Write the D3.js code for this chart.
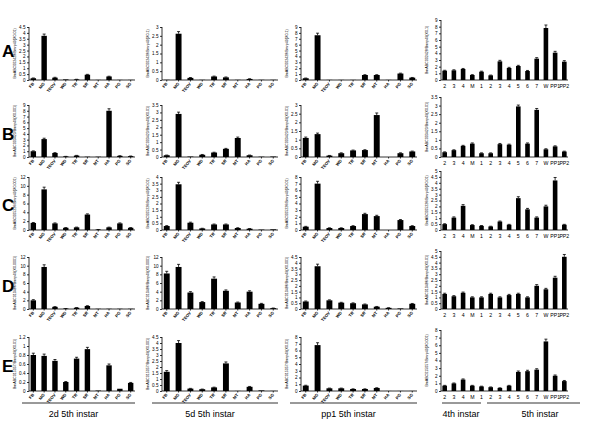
<!DOCTYPE html>
<html lang="en">
<head>
<meta charset="UTF-8">
<script src="https://cdn.jsdelivr.net/npm/d3@7"></script>
<style>
	body { margin: 0; background: #fff; }
	svg { display: block; font-family: "Liberation Sans", Arial, sans-serif; }
	.axis path, .axis line { stroke: #000; stroke-width: 0.8px; }
</style>
</head>
<body>
<script>
	/*------------------- data --------------------*/
	const tissues = ["FB", "MG", "TEOV", "WD", "TR", "SR", "MT", "HA", "PG", "SG"];
	const stages = ["2", "3", "4", "M", "1", "2", "3", "4", "5", "6", "7", "W", "PP1", "PP2"];
	const rowNames = ["A", "B", "C", "D", "E"];
	const groupNames = ["2d 5th instar", "5d 5th instar", "pp1 5th instar"];

	// values per panel, row by row (A..E), columns 2d, 5d, pp1, development
	const a1 = [0.15, 3.75, 0.2, 0.05, 0.05, 0.45, 0.01, 0.3, 0.01, 0.01];
	const a2 = [0.01, 2.62, 0.12, 0.01, 0.2, 0.15, 0.01, 0.06, 0.01, 0.01];
	const a3 = [0.3, 7.6, 0.02, 0.02, 0.02, 0.85, 0.85, 0.02, 1.1, 0.4];
	const a4 = [1.4, 1.45, 1.65, 0.75, 1.25, 0.7, 2.8, 1.8, 2.1, 1.35, 3.2, 7.8, 4.1, 2.75];
	const b1 = [1.0, 3.1, 0.7, 0.1, 0.25, 0.05, 0.05, 8.0, 0.2, 0.15];
	const b2 = [0.12, 2.9, 0.03, 0.15, 0.3, 0.55, 1.28, 0.12, 0.02, 0.03];
	const b3 = [1.1, 1.32, 0.08, 0.22, 0.38, 0.4, 2.42, 0, 0.22, 0.32];
	const b4 = [0.28, 0.4, 0.65, 0.78, 0.22, 0.22, 0.75, 0.72, 2.95, 0.78, 2.75, 0.45, 0.62, 0.32];
	const c1 = [1.6, 9.2, 1.5, 0.5, 0.6, 3.5, 0.1, 0.6, 1.5, 0.5];
	const c2 = [0.3, 3.45, 0.55, 0.12, 0.42, 0.42, 0.15, 0.1, 0.03, 0.05];
	const c3 = [0.5, 7.0, 0.3, 0.3, 0.6, 2.4, 2.1, 0, 1.5, 0.6];
	const c4 = [0.5, 1.05, 2.05, 0.42, 0.35, 0.3, 0.72, 0.45, 2.7, 1.75, 1.05, 2.0, 4.2, 0.45];
	const d1 = [2.0, 9.7, 0.5, 0.1, 0.3, 0.7, 0.05, 0.05, 0.05, 0.05];
	const d2 = [8.2, 9.7, 3.8, 1.6, 7.0, 4.2, 1.5, 4.0, 1.2, 0.2];
	const d3v = [0.65, 3.7, 0.75, 0.55, 0.5, 0.4, 0.2, 0.1, 0.05, 0.45];
	const d4 = [1.3, 1.1, 1.4, 1.0, 1.0, 1.3, 1.0, 1.2, 1.3, 1.0, 2.0, 1.7, 2.7, 4.5];
	const e1 = [0.8, 0.78, 0.67, 0.2, 0.72, 0.93, 0.01, 0.57, 0.05, 0.18];
	const e2 = [1.6, 4.0, 0.2, 0.15, 0.3, 2.3, 0.01, 0.35, 0.05, 0.01];
	const e3 = [0.8, 6.8, 0.4, 0.4, 0.3, 0.3, 0.45, 0.01, 0.01, 0.01];
	const e4 = [0.7, 1.0, 1.5, 0.7, 0.6, 0.5, 0.4, 0.7, 2.5, 2.6, 2.8, 6.5, 2.0, 1.3];

	// error bars (SD), same order
	const a1e = [0.02, 0.15, 0.03, 0, 0.01, 0.03, 0, 0.02, 0, 0];
	const a2e = [0, 0.12, 0.02, 0, 0.02, 0.02, 0, 0.01, 0, 0];
	const a3e = [0.03, 0.35, 0, 0, 0, 0.05, 0.05, 0, 0.06, 0.03];
	const a4e = [0.06, 0.08, 0.08, 0.05, 0.07, 0.04, 0.15, 0.1, 0.1, 0.08, 0.15, 0.45, 0.2, 0.15];
	const b1e = [0.06, 0.15, 0.05, 0.01, 0.03, 0, 0, 0.35, 0.02, 0.02];
	const b2e = [0.01, 0.12, 0, 0.02, 0.02, 0.03, 0.06, 0.01, 0, 0];
	const b3e = [0.05, 0.06, 0.01, 0.02, 0.02, 0.02, 0.12, 0, 0.02, 0.02];
	const b4e = [0.02, 0.02, 0.03, 0.04, 0.02, 0.02, 0.04, 0.03, 0.08, 0.04, 0.08, 0.03, 0.03, 0.02];
	const c1e = [0.1, 0.5, 0.1, 0.05, 0.05, 0.15, 0.01, 0.05, 0.1, 0.05];
	const c2e = [0.03, 0.15, 0.04, 0.01, 0.03, 0.03, 0.02, 0.01, 0, 0];
	const c3e = [0.05, 0.35, 0.03, 0.03, 0.05, 0.12, 0.12, 0, 0.08, 0.05];
	const c4e = [0.03, 0.06, 0.1, 0.03, 0.03, 0.02, 0.04, 0.03, 0.12, 0.08, 0.06, 0.1, 0.25, 0.03];
	const d1e = [0.15, 0.5, 0.05, 0.01, 0.03, 0.06, 0, 0, 0, 0];
	const d2e = [0.5, 0.6, 0.2, 0.1, 0.4, 0.2, 0.1, 0.2, 0.1, 0.02];
	const d3e = [0.04, 0.18, 0.04, 0.03, 0.03, 0.03, 0.02, 0.01, 0, 0.03];
	const d4e = [0.06, 0.05, 0.06, 0.05, 0.05, 0.06, 0.05, 0.06, 0.06, 0.05, 0.1, 0.08, 0.12, 0.2];
	const e1e = [0.04, 0.04, 0.03, 0.01, 0.03, 0.04, 0, 0.03, 0, 0.01];
	const e2e = [0.1, 0.2, 0.02, 0.01, 0.02, 0.12, 0, 0.03, 0, 0];
	const e3e = [0.05, 0.35, 0.03, 0.03, 0.02, 0.02, 0.03, 0, 0, 0];
	const e4e = [0.04, 0.05, 0.08, 0.04, 0.03, 0.03, 0.02, 0.04, 0.12, 0.12, 0.12, 0.3, 0.1, 0.08];

	// y axis maxima and tick steps
	const yMax = [[4.5, 3, 9, 9], [9, 3.5, 3, 3.5], [12, 4, 8, 5], [12, 12, 4.5, 5], [1.2, 4.5, 8, 8]];
	const yStep = [[0.5, 0.5, 1, 1], [1, 0.5, 0.5, 0.5], [2, 0.5, 1, 0.5], [2, 2, 0.5, 0.5], [0.2, 0.5, 1, 1]];

	const yTitles = [
		["BmABC002428/Bmrp49(X0.01)", "BmABC002428/Bmrp49(X0.1)", "BmABC002428/Bmrp49(X0.1)", "BmABC002428/Bmrp49(X0.1)"],
		["BmABC003423/Bmrp49(X0.001)", "BmABC003423/Bmrp49(X0.01)", "BmABC003423/Bmrp49(X0.01)", "BmABC003423/Bmrp49(X0.01)"],
		["BmABC005226/Bmrp49(X0.001)", "BmABC005226/Bmrp49(X0.01)", "BmABC005226/Bmrp49(X0.01)", "BmABC005226/Bmrp49(X0.01)"],
		["BmABC010486/Bmrp49(X0.0001)", "BmABC010486/Bmrp49(X0.0001)", "BmABC010486/Bmrp49(X0.001)", "BmABC010486/Bmrp49(X0.01)"],
		["BmABC015057/Bmrp49(X0.01)", "BmABC015057/Bmrp49(X0.001)", "BmABC015057/Bmrp49(X0.01)", "BmABC015057/Bmrp49(X0.001)"]
	];

	const vals = [[a1, a2, a3, a4], [b1, b2, b3, b4], [c1, c2, c3, c4], [d1, d2, d3v, d4], [e1, e2, e3, e4]];
	const errs = [[a1e, a2e, a3e, a4e], [b1e, b2e, b3e, b4e], [c1e, c2e, c3e, c4e], [d1e, d2e, d3e, d4e], [e1e, e2e, e3e, e4e]];

	/*------------------- layout --------------------*/
	const W = 600, H = 424;
	const colLeft = [29, 162, 301, 441];
	const colRight = [135, 278, 417, 568];
	const rowTop = [27, 105, 177, 257, 337];
	const rowBase = [80, 157, 230, 309, 391];
	const col4Top = [20, 97, 171, 251, 330];
	const letterY = [57, 140, 211, 292, 372];

	const svg = d3.select("body").append("svg")
		.attr("width", W)
		.attr("height", H);

	rowNames.forEach((rn, r) => {
		svg.append("text")
			.attr("x", 2).attr("y", letterY[r])
			.attr("font-size", 17).attr("font-weight", "bold")
			.text(rn);

		for (let c = 0; c < 4; c++) {
			const dev = c === 3;
			const data = vals[r][c];
			const err = errs[r][c];
			const top = dev ? col4Top[r] : rowTop[r];

			const x = d3.scaleBand()
				.domain(d3.range(data.length))
				.range([colLeft[c], colRight[c]])
				.paddingInner(0.5)
				.paddingOuter(0.15);
			const y = d3.scaleLinear()
				.domain([0, yMax[r][c]])
				.range([rowBase[r], top]);

			const tickVals = d3.range(0, yMax[r][c] + yStep[r][c] / 2, yStep[r][c]);
			const g = svg.append("g");

			// bars
			g.selectAll("rect").data(data).join("rect")
				.attr("x", (d, i) => x(i))
				.attr("width", x.bandwidth())
				.attr("y", d => y(d))
				.attr("height", d => rowBase[r] - y(d))
				.attr("fill", "#000");

			// error bars (stem + cap)
			data.forEach((d, i) => {
				if (!(err[i] > 0)) return;
				const cx = x(i) + x.bandwidth() / 2;
				const yt = y(d + err[i]);
				g.append("line")
					.attr("x1", cx).attr("x2", cx)
					.attr("y1", y(d)).attr("y2", yt)
					.attr("stroke", "#000").attr("stroke-width", 0.8);
				g.append("line")
					.attr("x1", cx - 1.5).attr("x2", cx + 1.5)
					.attr("y1", yt).attr("y2", yt)
					.attr("stroke", "#000").attr("stroke-width", 0.8);
			});

			// y axis
			const ya = g.append("g").attr("class", "axis")
				.attr("transform", `translate(${colLeft[c]},0)`)
				.call(d3.axisLeft(y).tickValues(tickVals).tickSize(2).tickPadding(1.5).tickFormat(d3.format("~g")));
			ya.select(".domain").attr("d", `M0,${rowBase[r]}V${top}`);
			ya.selectAll("text").attr("font-size", 4.6).attr("font-family", "Liberation Sans, Arial, sans-serif");

			// x axis
			const xa = g.append("g").attr("class", "axis")
				.attr("transform", `translate(0,${rowBase[r]})`)
				.call(d3.axisBottom(x).tickSize(dev ? 0 : 1.5).tickSizeOuter(0)
					.tickFormat(i => dev ? stages[i] : tissues[i]));
			xa.select(".domain").attr("d", `M${colLeft[c]},0H${colRight[c]}`);
			if (dev) {
				xa.selectAll("text").attr("font-size", 5.2).attr("y", 4);
			} else {
				xa.selectAll("text")
					.attr("font-size", 4.2).attr("font-weight", "bold")
					.attr("text-anchor", "end")
					.attr("dy", 0).attr("y", 0)
					.attr("transform", "translate(1,4) rotate(-50)");
			}

			// y title
			svg.append("text")
				.attr("transform", `translate(${colLeft[c] - 13},${(top + rowBase[r]) / 2}) rotate(-90)`)
				.attr("text-anchor", "middle")
				.attr("font-size", 3.6)
				.text(yTitles[r][c]);
		}
	});

	/*------------------- group labels --------------------*/
	const groupSpans = [[22, 135], [152, 278], [290, 417]];
	groupNames.forEach((gn, i) => {
		svg.append("line")
			.attr("x1", groupSpans[i][0]).attr("x2", groupSpans[i][1])
			.attr("y1", 403).attr("y2", 403)
			.attr("stroke", "#000").attr("stroke-width", 0.8);
		svg.append("text")
			.attr("x", (groupSpans[i][0] + groupSpans[i][1]) / 2 - 5).attr("y", 417)
			.attr("text-anchor", "middle").attr("font-size", 9)
			.text(gn);
	});
	const devSpans = [[442, 481], [487, 580]];
	["4th instar", "5th instar"].forEach((gn, i) => {
		svg.append("line")
			.attr("x1", devSpans[i][0]).attr("x2", devSpans[i][1])
			.attr("y1", 403).attr("y2", 403)
			.attr("stroke", "#000").attr("stroke-width", 0.8);
		svg.append("text")
			.attr("x", i === 0 ? 461 : 540).attr("y", 417)
			.attr("text-anchor", "middle").attr("font-size", 9)
			.text(gn);
	});
</script>
</body>
</html>
